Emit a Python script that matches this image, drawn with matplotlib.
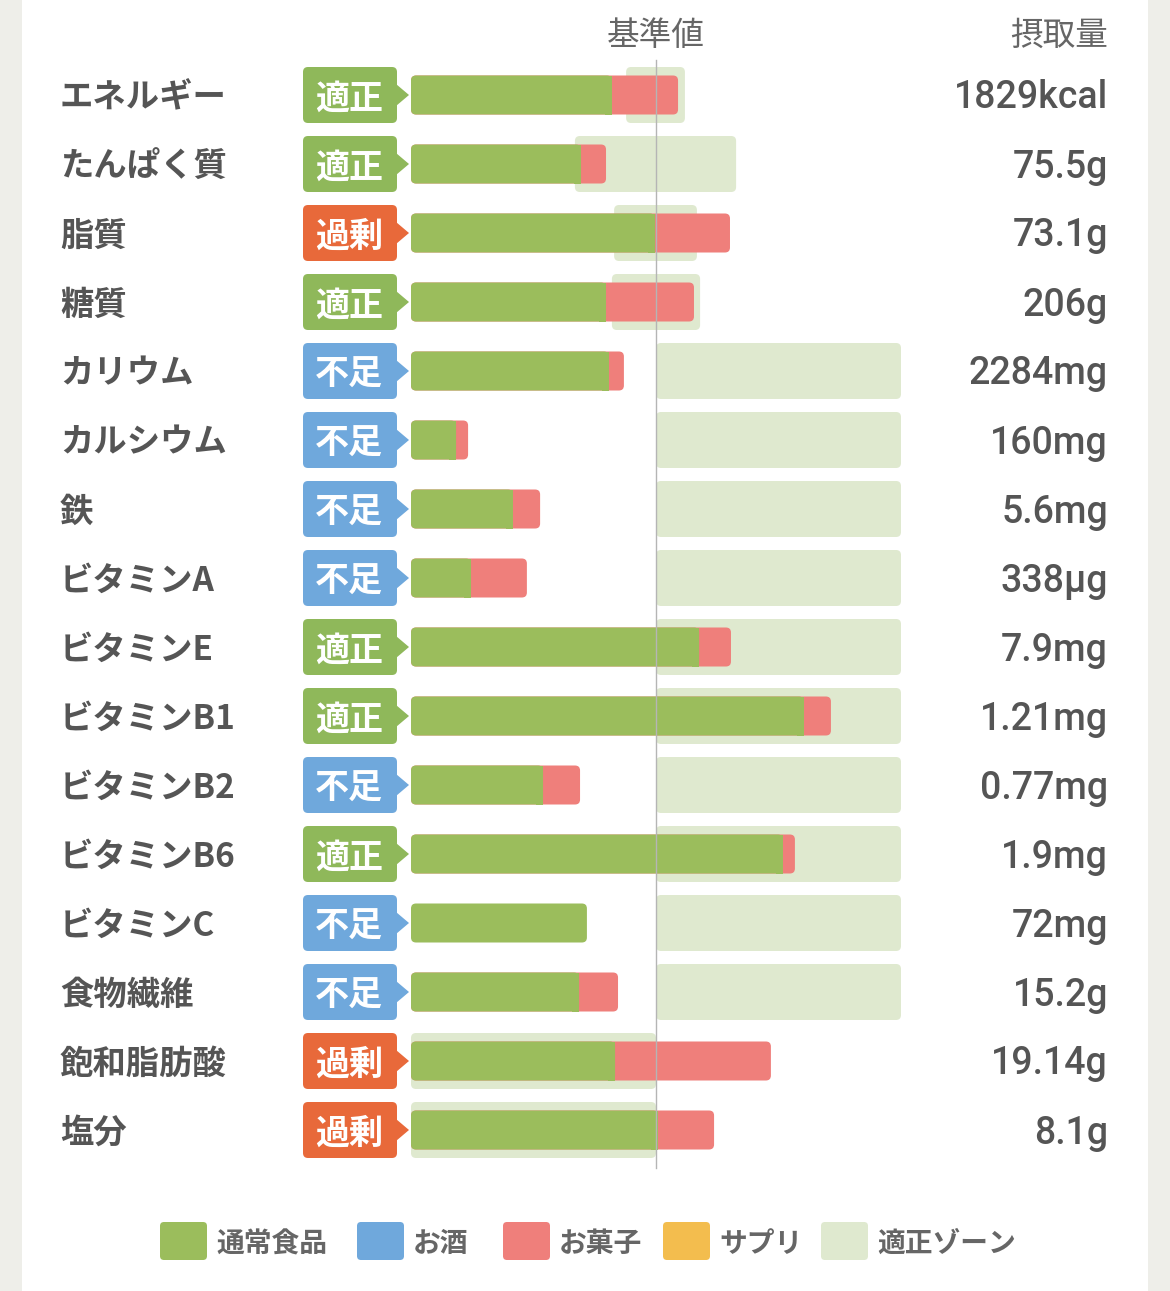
import matplotlib.pyplot as plt
from matplotlib.patches import FancyBboxPatch, Rectangle, Polygon

plt.rcParams['font.family'] = ['Noto Sans CJK JP', 'DejaVu Sans']

# data (percent of the reference value = 100)
nutrients = ["エネルギー", "たんぱく質", "脂質", "糖質", "カリウム", "カルシウム", "鉄",
             "ビタミンA", "ビタミンE", "ビタミンB1", "ビタミンB2", "ビタミンB6", "ビタミンC",
             "食物繊維", "飽和脂肪酸", "塩分"]
status = ["適正", "適正", "過剰", "適正", "不足", "不足", "不足", "不足", "適正", "適正",
          "不足", "適正", "不足", "不足", "過剰", "過剰"]
intake = ["1829kcal", "75.5g", "73.1g", "206g", "2284mg", "160mg", "5.6mg", "338µg",
          "7.9mg", "1.21mg", "0.77mg", "1.9mg", "72mg", "15.2g", "19.14g", "8.1g"]
food = [82.0, 69.4, 99.6, 79.6, 80.8, 18.4, 41.6, 24.5, 117.6, 160.4, 53.9, 151.8, 71.8, 68.6, 83.3, 100.8]
alcohol = [0] * 16
sweets = [27.0, 10.2, 30.6, 35.9, 6.1, 4.9, 11.1, 22.8, 13.0, 11.0, 15.1, 4.9, 0, 15.9, 63.6, 22.9]
supplement = [0] * 16
zone_lo = [87.8, 66.9, 82.9, 82.0, 100, 100, 100, 100, 100, 100, 100, 100, 100, 100, 0, 0]
zone_hi = [111.8, 132.7, 116.7, 118.0, 200, 200, 200, 200, 200, 200, 200, 200, 200, 200, 100, 100]

legend_names = ["通常食品", "お酒", "お菓子", "サプリ", "適正ゾーン"]

c_food = "#9bbd5c"
c_alcohol = "#6fa8dc"
c_sweets = "#ef7f7b"
c_supp = "#f3bd4e"
c_zone = "#dfe9cf"
badge_colors = {"適正": "#8fb85a", "過剰": "#e8693a", "不足": "#6fa8dc"}
text_gray = "#555555"

W, H = 1170, 1291
X0, XS = 411, 2.45      # pixel of 0 %, pixels per %
Y0, YS = 95, 69         # pixel of first row, pixels per row
TY = 3 / YS             # text nudge down


def px(x):
    return (x - X0) / XS


def py(y):
    return (y - Y0) / YS


fig = plt.figure(figsize=(W / 100, H / 100), dpi=100)
fig.patch.set_facecolor("#eeeee9")
ax = fig.add_axes([0, 0, 1, 1])
ax.set_xlim(px(0), px(W))
ax.set_ylim(py(H), py(0))
ax.axis("off")

aspect = (1 / YS) / (1 / XS)

# card
ax.add_patch(Rectangle((px(22), py(0)), px(1148) - px(22), py(H) - py(0),
                       facecolor="white", edgecolor="none", zorder=0))


def rbox(x0, x1, yc, h, color, r_px, z):
    r = r_px / XS
    p = FancyBboxPatch((x0, yc - h / 2), x1 - x0, h,
                       boxstyle=f"round,pad=0,rounding_size={r}",
                       mutation_aspect=aspect, facecolor=color, edgecolor="none", zorder=z)
    ax.add_patch(p)


bar_h = 39 / YS
zone_h = 56 / YS
badge_h = 56 / YS

for i, name in enumerate(nutrients):
    # zone
    rbox(zone_lo[i], zone_hi[i], i, zone_h, c_zone, 5, 1)
    # stacked bar
    total = food[i] + alcohol[i] + sweets[i] + supplement[i]
    if sweets[i] > 0:
        rbox(0, total, i, bar_h, c_sweets, 5, 2)
        rbox(0, food[i], i, bar_h, c_food, 5, 3)
        ax.add_patch(Rectangle((food[i] - 3, i - bar_h / 2), 3, bar_h,
                               facecolor=c_food, edgecolor="none", zorder=3))
    else:
        rbox(0, food[i], i, bar_h, c_food, 5, 3)

    # badge
    bc = badge_colors[status[i]]
    rbox(px(303), px(397), i, badge_h, bc, 5, 2)
    ax.add_patch(Polygon([(px(396), i - 11 / YS), (px(409), i), (px(396), i + 11 / YS)],
                         closed=True, facecolor=bc, edgecolor="none", zorder=2))
    ax.text(px(349), i + TY, status[i], color="white", fontsize=24.5, fontweight="bold",
            ha="center", va="center", zorder=4)

    ax.text(px(60), i + TY, name, color=text_gray, fontsize=24, fontweight="bold",
            ha="left", va="center")
    ax.text(px(1108), i + TY, intake[i], color=text_gray, fontsize=27, fontweight="medium",
            family=["Roboto", "DejaVu Sans"], ha="right", va="center")

# reference line
ax.plot([100, 100], [py(60), py(1168)], color="#b5b5b5", lw=1, zorder=5)

ax.text(100, py(33) + TY, "基準値", color="#666666", fontsize=23.5, ha="center", va="center")
ax.text(px(1108), py(33) + TY, "摂取量", color="#666666", fontsize=23.5, ha="right", va="center")

# legend
leg_colors = [c_food, c_alcohol, c_sweets, c_supp, c_zone]
leg_x = [160, 357, 503, 663, 821]
for name, col, lx in zip(legend_names, leg_colors, leg_x):
    x0 = px(lx)
    ax.add_patch(FancyBboxPatch((x0, py(1222)), 47 / XS, 38 / YS,
                                boxstyle=f"round,pad=0,rounding_size={4 / XS}",
                                mutation_aspect=aspect, facecolor=col, edgecolor="none"))
    ax.text(px(lx + 56), py(1241) + TY, name, color="#666666", fontsize=20, fontweight="bold",
            ha="left", va="center")

fig.savefig("out.png", dpi=100, facecolor=fig.get_facecolor())
